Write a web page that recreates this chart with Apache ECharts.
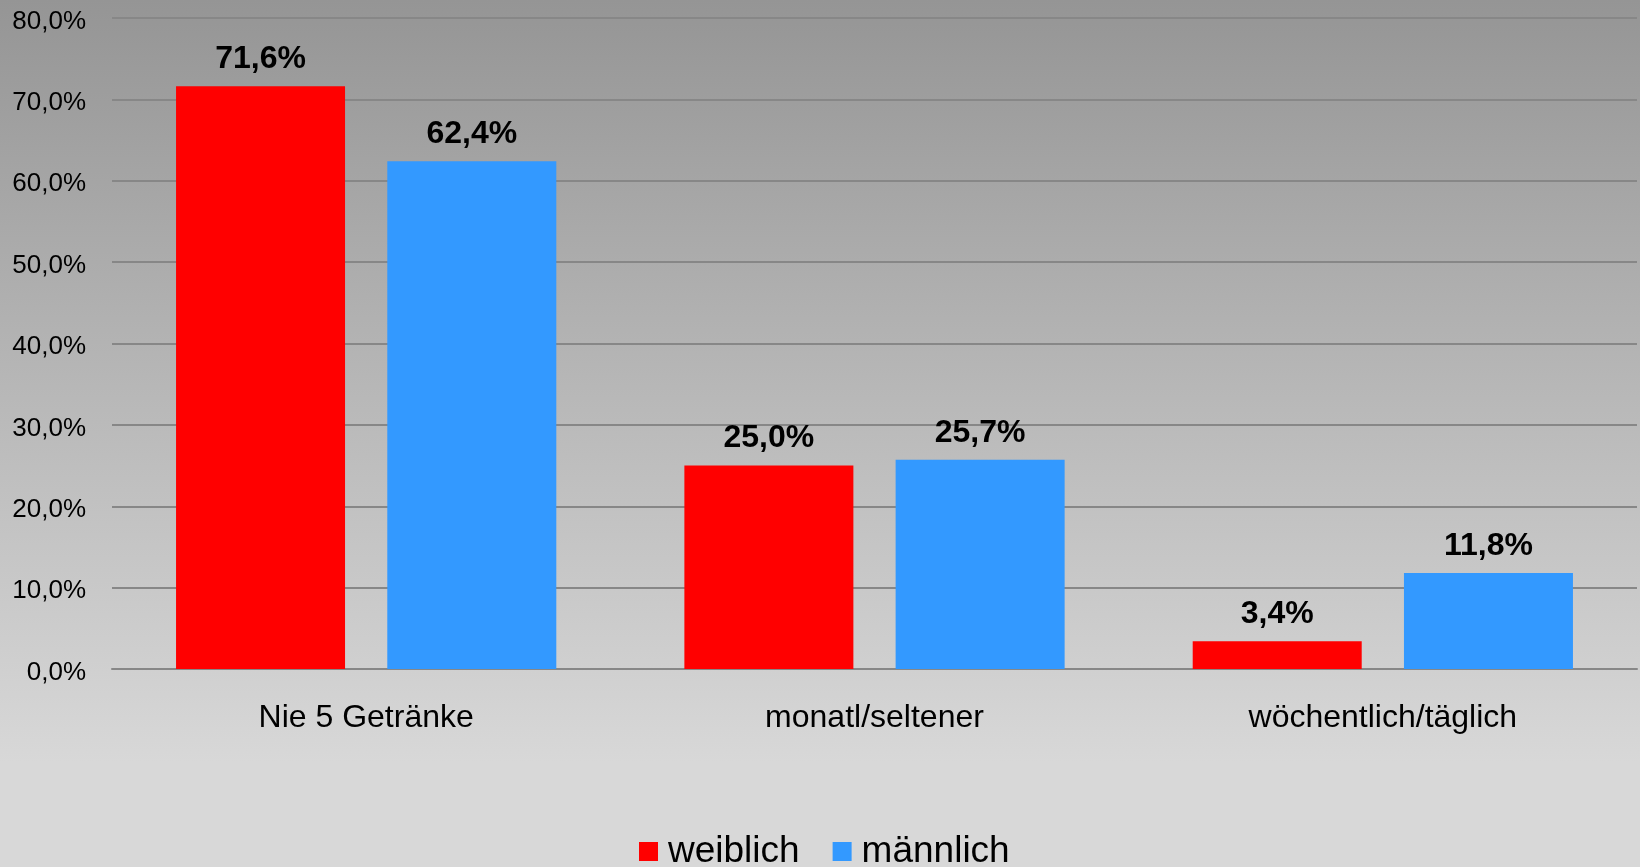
<!DOCTYPE html>
<html>
<head>
<meta charset="utf-8">
<style>
html,body{margin:0;padding:0;width:1640px;height:867px;overflow:hidden;background:#c0c0c0;}
#chart{width:1640px;height:867px;}
</style>
<script src="https://cdn.jsdelivr.net/npm/echarts@6/dist/echarts.min.js"></script>
</head>
<body>
<div id="chart"></div>
<script>
const categories = ['Nie 5 Getränke', 'monatl/seltener', 'wöchentlich/täglich'];
const seriesNames = ['weiblich', 'männlich'];
const weiblich = [71.6, 25.0, 3.4];
const maennlich = [62.4, 25.7, 11.8];
const seriesColors = ['#ff0000', '#3399ff'];
const yMin = 0, yMax = 80, yInterval = 10;

const FONT = '"Liberation Sans", Arial, Helvetica, sans-serif';
const fmt = v => v.toFixed(1).replace('.', ',') + '%';

const chart = echarts.init(document.getElementById('chart'), null, {renderer: 'canvas'});

function barSeries(name, data, color) {
  return {
    name: name,
    type: 'bar',
    data: data,
    barWidth: 169,
    barGap: '25%',
    itemStyle: {color: color},
    label: {
      show: true,
      position: 'top',
      distance: 11,
      formatter: p => fmt(p.value),
      fontFamily: FONT,
      fontSize: 32,
      lineHeight: 32,
      fontWeight: 'bold',
      color: '#000'
    }
  };
}

chart.setOption({
  animation: false,
  backgroundColor: {
    type: 'linear', x: 0, y: 0, x2: 0, y2: 1,
    colorStops: [
      {offset: 0, color: '#959595'},
      {offset: 0.88, color: '#d8d8d8'},
      {offset: 1, color: '#d8d8d8'}
    ]
  },
  textStyle: {fontFamily: FONT},
  grid: {left: 112, right: 3, top: 18, bottom: 198, containLabel: false},
  legend: {
    data: seriesNames,
    left: 634,
    top: 828,
    itemWidth: 19,
    itemHeight: 19,
    itemGap: 33,
    icon: 'rect',
    textStyle: {fontFamily: FONT, fontSize: 37, lineHeight: 37, color: '#000', padding: [0, 0, 0, 5]}
  },
  xAxis: {
    type: 'category',
    data: categories,
    axisLine: {show: true, lineStyle: {color: '#878787', width: 2}},
    axisTick: {show: false},
    axisLabel: {
      fontFamily: FONT, fontSize: 32, lineHeight: 32, color: '#000', margin: 33, interval: 0
    }
  },
  yAxis: {
    type: 'value',
    min: yMin, max: yMax, interval: yInterval,
    axisLine: {show: false},
    axisTick: {show: false},
    splitLine: {show: true, lineStyle: {color: '#878787', width: 2}},
    axisLabel: {
      fontFamily: FONT, fontSize: 26, color: '#000', margin: 26,
      verticalAlign: 'top', lineHeight: 7,
      formatter: v => fmt(v)
    }
  },
  series: [
    barSeries(seriesNames[0], weiblich, seriesColors[0]),
    barSeries(seriesNames[1], maennlich, seriesColors[1])
  ]
});
</script>
</body>
</html>
